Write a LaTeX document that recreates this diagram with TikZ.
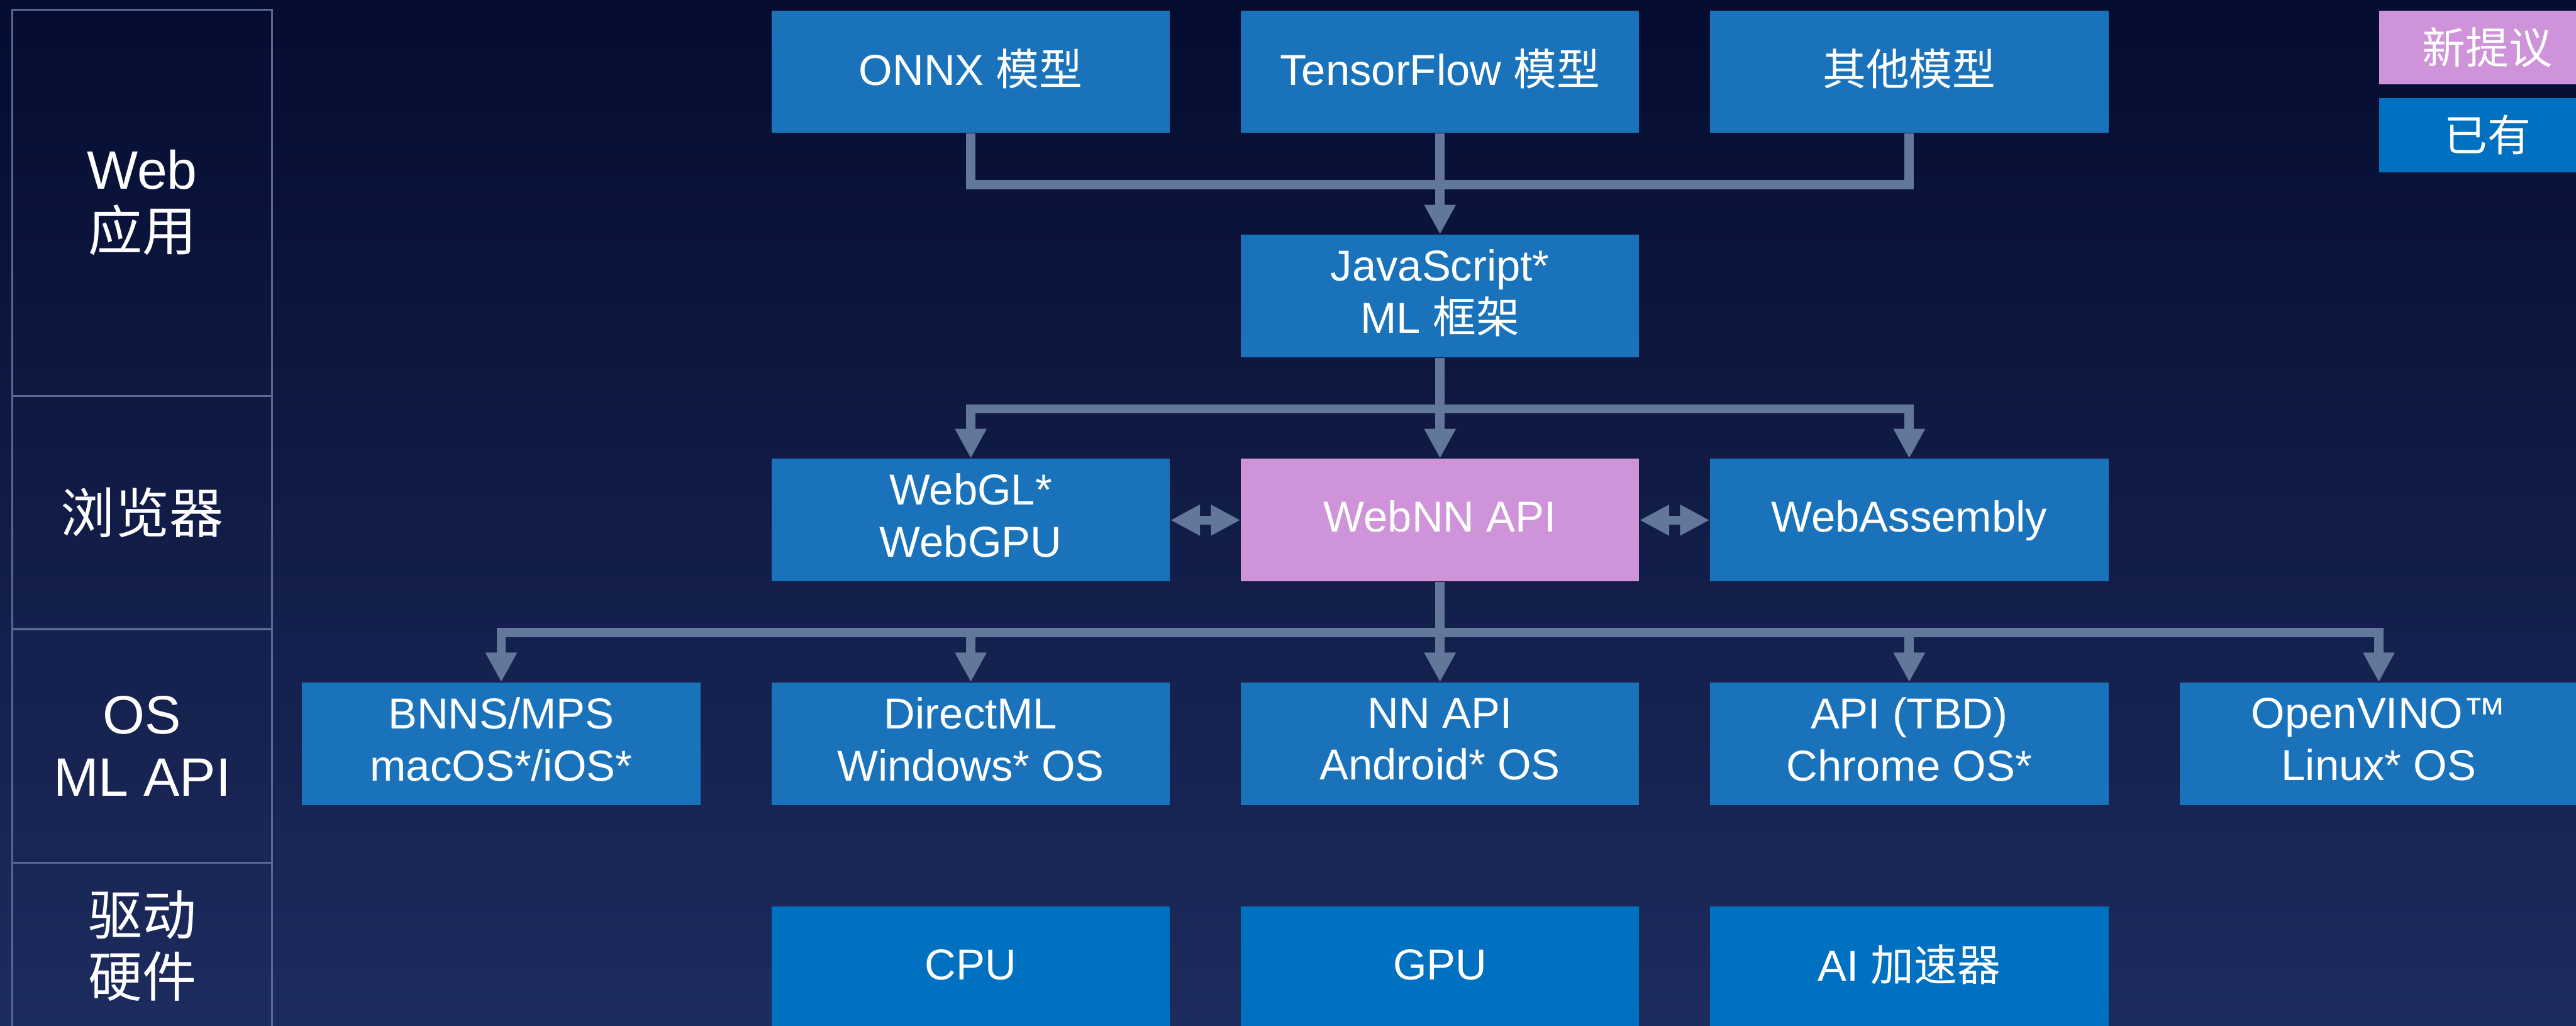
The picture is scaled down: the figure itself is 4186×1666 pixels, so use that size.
\documentclass[tikz,border=0pt]{standalone}
\usepackage{fontspec}
\setmainfont{Liberation Sans}
\newfontfamily\cjk{Noto Sans CJK SC}
\usetikzlibrary{arrows.meta}

\definecolor{boxblue}{RGB}{26,115,186}
\definecolor{hwblue}{RGB}{0,112,192}
\definecolor{newpink}{RGB}{206,147,216}
\definecolor{linkgray}{RGB}{99,119,154}
\definecolor{gridline}{RGB}{88,106,148}
\definecolor{bgtop}{RGB}{5,12,48}
\definecolor{bgbottom}{RGB}{29,44,94}

\newcommand{\boxstrut}{\rule[-4.5pt]{0pt}{19.7pt}}

\begin{document}
\begin{tikzpicture}[x=0.01cm, y=-0.01cm,
  every node/.style={text=white, align=center, inner sep=0pt},
  box/.style={fill=boxblue, minimum width=6.47cm, minimum height=1.99cm, font=\fontsize{20}{24}\selectfont,
    execute at begin node=\boxstrut, execute at end node=\boxstrut},
  hwbox/.style={box, fill=hwblue},
  newbox/.style={box, fill=newpink},
  tier/.style={draw=gridline, line width=0.03cm, minimum width=4.22cm, font=\fontsize{25}{28.5}\selectfont},
  keybox/.style={minimum width=3.52cm, minimum height=1.2cm, font=\fontsize{20}{24}\selectfont\cjk},
  wire/.style={draw=linkgray, line width=0.15cm},
  flow/.style={-{Triangle[length=0.48cm, width=0.48cm]}},
  twoway/.style={{Triangle[length=0.48cm, width=0.47cm]}-{Triangle[length=0.48cm, width=0.47cm]}}]

  % background
  \fill[top color=bgtop, bottom color=bgbottom] (0,0) rectangle (4186,1666);
  \useasboundingbox (0,0) rectangle (4186,1666);

  % layers on the left
  \node[tier, minimum height=6.27cm] (tweb) at (231,329.5) {Web\\{\cjk 应用}};
  \node[tier, minimum height=3.79cm] (tbrowser) at (231,832.5) {{\cjk 浏览器}};
  \node[tier, minimum height=3.80cm] (tos) at (231,1212) {OS\\ML API};
  \node[tier, minimum height=2.70cm] (thw) at (231,1537) {{\cjk 驱动}\\{\cjk 硬件}};

  % models and framework
  \node[box] (onnx) at (1577.5,116.5) {ONNX {\cjk 模型}};
  \node[box] (tf) at (2340,116.5) {TensorFlow {\cjk 模型}};
  \node[box] (other) at (3102.5,116.5) {{\cjk 其他模型}};
  \node[box] (jsml) at (2340,481) {JavaScript*\\ML {\cjk 框架}};

  % browser
  \node[box] (webgl) at (1577.5,845) {WebGL*\\WebGPU};
  \node[newbox] (webnn) at (2340,845) {WebNN API};
  \node[box] (wasm) at (3102.5,845) {WebAssembly};

  % os apis
  \node[box] (bnns) at (814.5,1208.5) {BNNS/MPS\\macOS*/iOS*};
  \node[box] (dml) at (1577.5,1208.5) {DirectML\\Windows* OS};
  \node[box] (nnapi) at (2340,1208.5) {NN API\\Android* OS};
  \node[box] (tbd) at (3102.5,1208.5) {API (TBD)\\Chrome OS*};
  \node[box] (vino) at (3865.5,1208.5) {OpenVINO™\\Linux* OS};

  % hardware
  \node[hwbox] (cpu) at (1577.5,1572.5) {CPU};
  \node[hwbox] (gpu) at (2340,1572.5) {GPU};
  \node[hwbox] (aiacc) at (3102.5,1572.5) {AI {\cjk 加速器}};

  % legend
  \node[keybox, fill=newpink] (knew) at (4042,77) {新提议};
  \node[keybox, fill=hwblue] (kold) at (4042,219.5) {已有};

  % models to framework
  \draw[wire] (onnx.south) -- ++(0,83) -| (other.south);
  \draw[wire, flow] (tf.south) -- (jsml.north);

  % framework to browser
  \path (jsml.south) ++(0,83) coordinate (split1);
  \draw[wire] (jsml.south) -- (split1);
  \draw[wire, flow] (split1) -| (webgl.north);
  \draw[wire, flow] (split1) -- (webnn.north);
  \draw[wire, flow] (split1) -| (wasm.north);

  % webnn to os apis
  \path (webnn.south) ++(0,82) coordinate (split2);
  \draw[wire] (webnn.south) -- (split2);
  \foreach \n in {bnns,dml,nnapi,tbd,vino}
    \draw[wire, flow] (split2) -| (\n.north);

  \draw[wire, twoway] (webgl.east) -- (webnn.west);
  \draw[wire, twoway] (webnn.east) -- (wasm.west);
\end{tikzpicture}
\end{document}
